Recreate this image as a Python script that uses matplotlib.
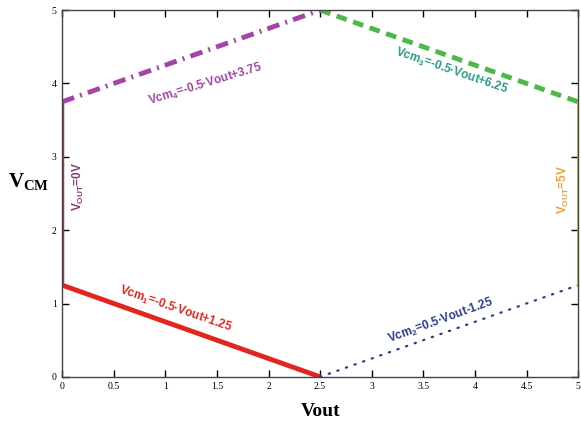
import matplotlib as mpl
mpl.use('agg')
import matplotlib.pyplot as plt
import numpy as np

mpl.rcParams['mathtext.fontset'] = 'custom'
mpl.rcParams['mathtext.sf'] = 'Liberation Sans:bold'
mpl.rcParams['mathtext.rm'] = 'Liberation Serif:bold'

# segments of the operating region boundary
vcm1_x = [0.0, 2.5]
vcm1_y = [1.25, 0.0]
vcm2_x = [2.5, 5.0]
vcm2_y = [0.0, 1.25]
vcm3_x = [2.5, 5.0]
vcm3_y = [5.0, 3.75]
vcm4_x = [0.0, 2.5]
vcm4_y = [3.75, 5.0]
vout0_x = [0.0, 0.0]
vout0_y = [1.3, 3.7]
vout5_x = [5.0, 5.0]
vout5_y = [1.25, 3.75]

xticks = np.arange(0, 5.01, 0.5)
xticklabels = ["0", "0.5", "1", "1.5", "2", "2.5", "3", "3.5", "4", "4.5", "5"]
yticks = [0, 1, 2, 3, 4, 5]

fig = plt.figure(figsize=(5.81, 4.22), dpi=100)
ax = fig.add_axes([0.107, 0.107, 0.888, 0.869])

ax.plot(vcm1_x, vcm1_y, color='#e0261f', linewidth=3.5, solid_capstyle='butt')
ax.plot(vcm2_x, vcm2_y, color='#2b3a8f', linewidth=1.6, linestyle=(0, (0.6, 3.5)), dash_capstyle='round')
ax.plot(vcm3_x, vcm3_y, color='#4cb848', linewidth=3.5, linestyle=(0, (2.2, 1.4)))
ax.plot(vcm4_x, vcm4_y, color='#a443a8', linewidth=3.5, linestyle=(0, (2.6, 1.3, 0.4, 1.3)))
ax.plot(vout0_x, vout0_y, color='#8b3a7a', linewidth=2.5)
ax.plot(vout5_x, vout5_y, color='#f0a030', linewidth=1.8)

tkw = dict(fontsize=8.5, fontweight='bold', family=['Liberation Sans', 'DejaVu Sans'],
           ha='center', va='center', rotation_mode='anchor')
ax.text(1.1, 0.92, r"Vcm$_\mathsf{1}$=-0.5·Vout+1.25", color='#e0261f', rotation=-19, **tkw)
ax.text(3.67, 0.77, r"Vcm$_\mathsf{2}$=0.5·Vout-1.25", color='#2b3a8f', rotation=20, **tkw)
ax.text(3.77, 4.17, r"Vcm$_\mathsf{3}$=-0.5·Vout+6.25", color='#2a9a88', rotation=-19, **tkw)
ax.text(1.39, 3.99, r"Vcm$_\mathsf{4}$=-0.5·Vout+3.75", color='#a443a8', rotation=17, **tkw)
ax.text(0.16, 2.6, r"V$_\mathsf{OUT}$=0V", color='#8b3a7a', rotation=90, **tkw)
ax.text(4.86, 2.55, r"V$_\mathsf{OUT}$=5V", color='#f0a030', rotation=90, **tkw)

ax.set_xlim(0, 5)
ax.set_ylim(0, 5)
ax.set_xticks(xticks)
ax.set_xticklabels(xticklabels)
ax.set_yticks(yticks)
ax.tick_params(direction='in', top=True, right=True, length=5, width=1, labelsize=7, pad=4)
for lab in ax.get_xticklabels() + ax.get_yticklabels():
    lab.set_family(['Liberation Serif', 'DejaVu Serif'])
for sp in ax.spines.values():
    sp.set_color('#444444')
    sp.set_linewidth(1.0)

ax.set_xlabel("Vout", fontsize=14, fontweight='bold', family=['Liberation Serif', 'DejaVu Serif'])
ax.xaxis.set_label_coords(0.5, -0.07)
ax.set_ylabel(r"V$_\mathrm{CM}$", fontsize=15, fontweight='bold', family=['Liberation Serif', 'DejaVu Serif'],
              rotation=0, va='center', ha='center')
ax.yaxis.set_label_coords(-0.065, 0.53)

plt.savefig("out.png")
